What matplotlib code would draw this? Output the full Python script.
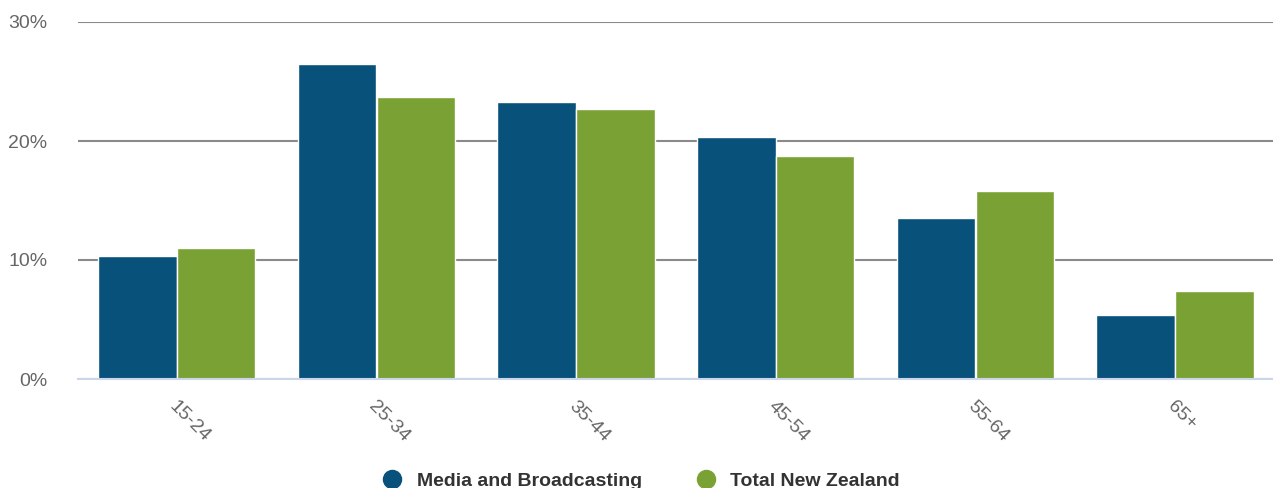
import matplotlib
matplotlib.use('Agg')
import matplotlib.pyplot as plt
import matplotlib.transforms as mtransforms
import numpy as np
from matplotlib.lines import Line2D
from matplotlib.ticker import FuncFormatter

plt.rcParams['font.family'] = ['Liberation Sans', 'DejaVu Sans']

age_groups = ['15-24', '25-34', '35-44', '45-54', '55-64', '65+']
media = [10.3, 26.5, 23.3, 20.3, 13.5, 5.4]
total_nz = [11.0, 23.7, 22.7, 18.7, 15.8, 7.4]
series_names = ['Media and Broadcasting', 'Total New Zealand']

BLUE = '#08517a'
GREEN = '#7aa133'

fig = plt.figure(figsize=(12.73, 4.88), dpi=100)
ax = fig.add_axes([78 / 1273, 1 - 379 / 488, 1198 / 1273, 357 / 488])

x = np.arange(len(age_groups))
ax.bar(x - 0.203, media, width=0.393, color=BLUE, edgecolor='white', linewidth=1, zorder=3)
ax.bar(x + 0.192, total_nz, width=0.393, color=GREEN, edgecolor='white', linewidth=1, zorder=3)

ax.set_xlim(-0.5, len(age_groups) - 0.5)
ax.set_ylim(0, 30)
ax.set_yticks([0, 10, 20, 30])
ax.yaxis.set_major_formatter(FuncFormatter(lambda v, p: '%d%%' % v))
ax.yaxis.grid(True, color='#8a8a8a', linewidth=1.5, zorder=0)
ax.set_axisbelow(True)

for s in ['top', 'right', 'left']:
    ax.spines[s].set_visible(False)
ax.spines['bottom'].set_color('#ccd6eb')
ax.spines['bottom'].set_linewidth(1.5)
ax.spines['bottom'].set_zorder(4)

ax.tick_params(axis='y', length=0, pad=22, labelsize=14, labelcolor='#666666')
ax.tick_params(axis='x', length=0, pad=18, labelsize=14, labelcolor='#666666')
ax.set_xticks(x)
ax.set_xticklabels(age_groups, rotation=-45, ha='left', va='center', rotation_mode='anchor')
shift = mtransforms.ScaledTranslation(-6 / 100, 0, fig.dpi_scale_trans)
for lbl in ax.get_xticklabels():
    lbl.set_transform(lbl.get_transform() + shift)

handles = [Line2D([], [], marker='o', linestyle='none', markersize=13, color=c) for c in (BLUE, GREEN)]
fig.legend(handles, series_names, loc='center', bbox_to_anchor=(0.5, 1 - 481 / 488), ncol=2, frameon=False,
           prop={'size': 14, 'weight': 'bold'}, labelcolor='#333333', handletextpad=0.25, columnspacing=2.3,
           borderaxespad=0)

fig.savefig('out.png', dpi=100)
